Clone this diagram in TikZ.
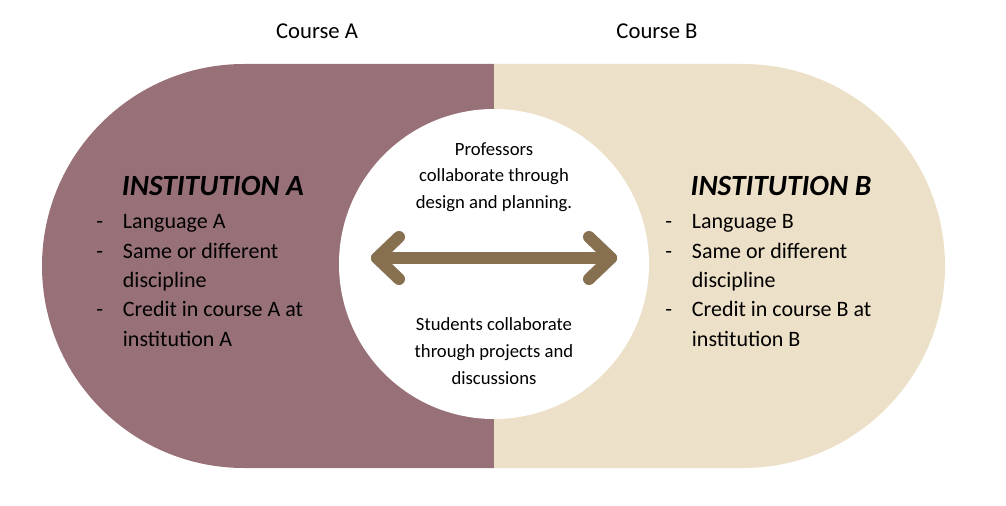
\documentclass[tikz,border=0pt]{standalone}
\usepackage{fontspec}
\setmainfont{Carlito}
\definecolor{mauve}{HTML}{987178}
\definecolor{sand}{HTML}{EDE0C8}
\definecolor{arrowc}{HTML}{86704F}
\begin{document}
\begin{tikzpicture}[x=0.75pt,y=-0.75pt,
  body/.style={font=\fontsize{16.5}{22}\selectfont,align=left,anchor=north west,inner sep=0},
  ctext/.style={font=\fontsize{14}{20}\selectfont,align=center,inner sep=0},
  title/.style={font=\fontsize{22}{26}\selectfont\bfseries\itshape,inner sep=0},
  arr/.style={draw=arrowc,line width=9pt,line cap=round,line join=round}]
\useasboundingbox (0,0) rectangle (1006,506);
\fill[mauve] (494,64) -- (244,64) arc[start angle=-90,end angle=-270,radius=202] -- (494,468) -- cycle;
\fill[sand] (494,64) -- (743,64) arc[start angle=-90,end angle=90,radius=202] -- (494,468) -- cycle;
\fill[white] (494,264) circle[radius=155];
\node[font=\fontsize{17}{20}\selectfont] (ca) at (317,31) {Course A};
\node[font=\fontsize{17}{20}\selectfont] (cb) at (657,31) {Course B};
\node[title] (ta) at (213,186) {INSTITUTION A};
\node[title] (tb) at (781,186) {INSTITUTION B};
\node[body] (la) at (96,208) {\begin{tabular}{@{}p{20pt}@{}l@{}}
-&Language A\\-&Same or different\\&discipline\\-&Credit in course A at\\&institution A\end{tabular}};
\node[body] (lb) at (665,208) {\begin{tabular}{@{}p{20pt}@{}l@{}}
-&Language B\\-&Same or different\\&discipline\\-&Credit in course B at\\&institution B\end{tabular}};
\node[ctext] (prof) at (494,177) {Professors\\collaborate through\\design and planning.};
\node[ctext] (stud) at (494,351) {Students collaborate\\through projects and\\discussions};
\coordinate (l) at (377,258);
\coordinate (r) at (611,258);
\draw[arr] (l) -- (r);
\draw[arr] ([shift={(22,-21)}]l) -- (l) -- ([shift={(22,21)}]l);
\draw[arr] ([shift={(-22,-21)}]r) -- (r) -- ([shift={(-22,21)}]r);
\end{tikzpicture}
\end{document}
